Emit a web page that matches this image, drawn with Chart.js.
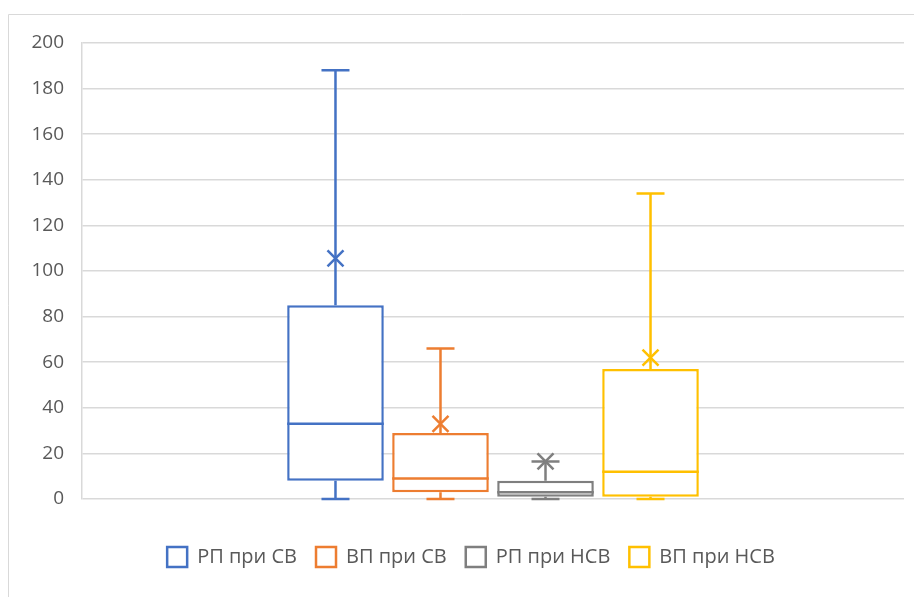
<!DOCTYPE html>
<html>
<head>
<meta charset="utf-8">
<script src="https://cdn.jsdelivr.net/npm/chart.js@4.4.1/dist/chart.umd.min.js"></script>
<style>
  html, body { margin: 0; padding: 0; background: #ffffff; }
  #wrap { width: 914px; height: 597px; position: relative; }
</style>
</head>
<body>
<div id="wrap"><canvas id="chart" width="914" height="597"></canvas></div>
<script>
// Box-and-whisker summary for each series
const categories = [''];
const seriesNames = ['РП при СВ', 'ВП при СВ', 'РП при НСВ', 'ВП при НСВ'];
const minValues    = [0, 0, 0, 0];
const q1Values     = [8, 3, 1, 1];
const medianValues = [33, 9, 3, 12];
const q3Values     = [85, 29, 8, 57];
const maxValues    = [188, 66, 16.5, 134];
const meanValues   = [105.5, 33, 16.5, 62];
const yTickValues  = [0, 20, 40, 60, 80, 100, 120, 140, 160, 180, 200];

const seriesColors = ['#4472C4', '#ED7D31', '#7F7F7F', '#FFC000'];
const textColor = '#595959';
const gridColor = '#d9d9d9';
const fontFamily = '"Open Sans", "Noto Sans", sans-serif';

const datasets = seriesNames.map((name, i) => ({
  label: name,
  data: [[q1Values[i], q3Values[i]]],
  backgroundColor: '#ffffff',
  borderColor: seriesColors[i],
  borderWidth: 2.5,
  borderSkipped: false,
  categoryPercentage: 0.511,
  barPercentage: 0.92
}));

// Whiskers, caps, median line and mean marker drawn from the bar positions
const boxExtras = {
  id: 'boxExtras',
  afterDatasetsDraw(chart) {
    const ctx = chart.ctx;
    const y = chart.scales.y;
    chart.data.datasets.forEach((ds, i) => {
      const bar = chart.getDatasetMeta(i).data[0];
      if (!bar) return;
      const cx = bar.x;
      const half = bar.width / 2;
      const capHalf = 14;
      ctx.save();
      ctx.strokeStyle = seriesColors[i];
      ctx.lineWidth = 2.5;
      ctx.lineCap = 'butt';
      const yMin = y.getPixelForValue(minValues[i]);
      const yQ1 = y.getPixelForValue(q1Values[i]);
      const yMed = y.getPixelForValue(medianValues[i]);
      const yQ3 = y.getPixelForValue(q3Values[i]);
      const yMax = y.getPixelForValue(maxValues[i]);
      const yMean = y.getPixelForValue(meanValues[i]);
      ctx.beginPath();
      // upper whisker
      ctx.moveTo(cx, yQ3); ctx.lineTo(cx, yMax);
      ctx.moveTo(cx - capHalf, yMax); ctx.lineTo(cx + capHalf, yMax);
      // lower whisker
      ctx.moveTo(cx, yQ1); ctx.lineTo(cx, yMin);
      ctx.moveTo(cx - capHalf, yMin); ctx.lineTo(cx + capHalf, yMin);
      // median
      ctx.moveTo(cx - half, yMed); ctx.lineTo(cx + half, yMed);
      ctx.stroke();
      // mean marker
      const m = 8;
      ctx.beginPath();
      ctx.moveTo(cx - m, yMean - m); ctx.lineTo(cx + m, yMean + m);
      ctx.moveTo(cx - m, yMean + m); ctx.lineTo(cx + m, yMean - m);
      ctx.stroke();
      ctx.restore();
    });
  }
};

// Thin frame around the chart area
const frame = {
  id: 'frame',
  beforeDraw(chart) {
    const ctx = chart.ctx;
    ctx.save();
    ctx.strokeStyle = gridColor;
    ctx.lineWidth = 1;
    ctx.beginPath();
    ctx.moveTo(8.5, 597);
    ctx.lineTo(8.5, 14.5);
    ctx.lineTo(914, 14.5);
    ctx.stroke();
    ctx.restore();
  }
};

// Centre the legend row under the plot rather than the whole canvas
const legendShift = {
  id: 'legendShift',
  afterLayout(chart) {
    if (chart.legend) chart.legend.left = 38;
  }
};

new Chart(document.getElementById('chart'), {
  type: 'bar',
  data: { labels: categories, datasets },
  plugins: [frame, boxExtras, legendShift],
  options: {
    responsive: false,
    animation: false,
    layout: { padding: { left: 8, top: 43, right: 10, bottom: 20 } },
    plugins: {
      tooltip: { enabled: false },
      legend: {
        position: 'bottom',
        labels: {
          color: textColor,
          font: { family: fontFamily, size: 20 },
          boxWidth: 20,
          boxHeight: 20,
          padding: 19,
          generateLabels(chart) {
            return chart.data.datasets.map((ds, i) => ({
              text: ds.label,
              fillStyle: '#ffffff',
              strokeStyle: seriesColors[i],
              lineWidth: 2.5,
              fontColor: textColor,
              datasetIndex: i,
              hidden: false
            }));
          }
        }
      }
    },
    scales: {
      x: {
        offset: true,
        grid: { display: false },
        border: { display: false },
        ticks: { display: false },
        afterFit(scale) { scale.height = 29; }
      },
      y: {
        min: 0,
        max: 200,
        afterBuildTicks(scale) { scale.ticks = yTickValues.map(v => ({ value: v })); },
        grid: { color: gridColor, lineWidth: 1.5, drawTicks: false },
        border: { display: true, color: gridColor, width: 1.5 },
        ticks: {
          color: textColor,
          font: { family: fontFamily, size: 19 },
          padding: 18
        },
        afterFit(scale) { scale.width = 74; }
      }
    }
  }
});
</script>
</body>
</html>
